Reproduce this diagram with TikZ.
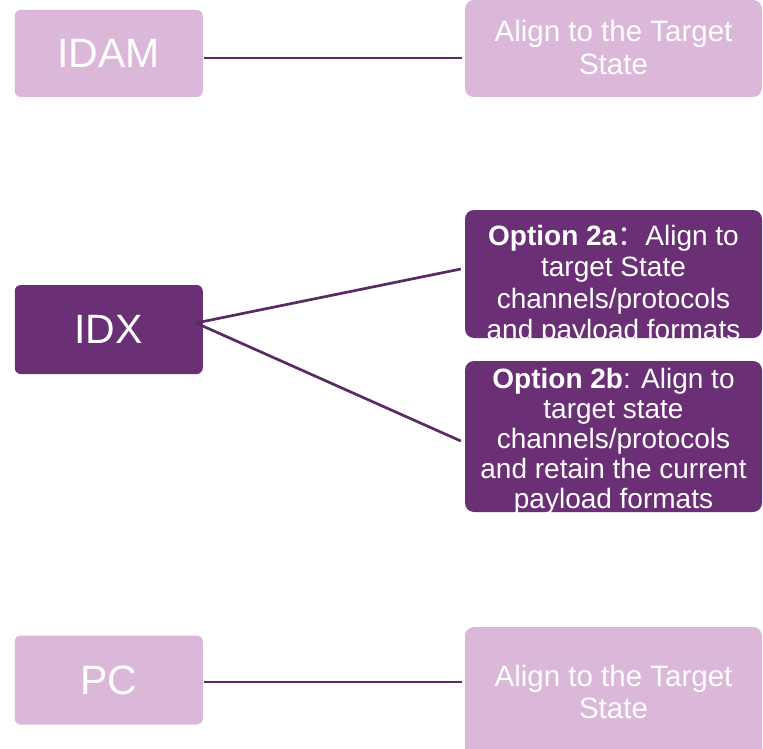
\documentclass[tikz,border=0pt]{standalone}
\usepackage{fontspec}
\setmainfont{Liberation Sans}
\newfontfamily\cjk{Noto Sans CJK SC}
\definecolor{pinkfill}{HTML}{DBB7D9}
\definecolor{purplefill}{HTML}{6B2F75}
\definecolor{linecol}{HTML}{5A2A63}
\begin{document}
\begin{tikzpicture}[x=1pt,y=-1pt,
  box/.style={rectangle, inner sep=0pt, draw=none},
  leftbox/.style={box, rounded corners=6pt, minimum width=188pt, text=white,
    font=\fontsize{41}{45}\selectfont},
  rightbox/.style={box, rounded corners=9pt, minimum width=297pt},
  pinkbox/.style={fill=pinkfill},
  purplebox/.style={fill=purplefill},
  righttext/.style={inner sep=0pt, text=white, align=center,
    font=\fontsize{29.5}{32.5}\selectfont},
  opttext/.style={inner sep=0pt, text=white, align=center},
  conn/.style={draw=linecol, line width=2.7pt}]
\useasboundingbox (0,0) rectangle (763,749);
\clip (0,0) rectangle (763,749);

% left boxes
\node[leftbox, pinkbox, minimum height=87pt] (idam) at (108.75,53.5) {IDAM};
\node[leftbox, purplebox, minimum height=89pt] (idx) at (108.75,329.5) {IDX};
\node[leftbox, pinkbox, minimum height=89pt] (pc) at (108.75,680) {PC};

% right boxes
\node[rightbox, pinkbox, minimum height=97pt] (tr) at (613.5,48.5) {};
\node[rightbox, purplebox, minimum height=128pt] (opt2a) at (613.5,274) {};
\node[rightbox, purplebox, minimum height=151pt] (opt2b) at (613.5,436.5) {};
\node[rightbox, pinkbox, minimum height=143pt] (br) at (613.5,698.5) {};

% texts of right boxes
\node[righttext] (trt) at (613.5,47.5) {Align to the Target\\State};
\begin{scope}
  \clip[rounded corners=9pt] (opt2a.north west) rectangle (opt2a.south east);
  \node[opttext, font=\fontsize{28}{31.5}\selectfont] (t2a) at (613.5,285.5)
    {\textbf{Option 2a}{\cjk：}Align to\\target State\\channels/protocols\\and payload formats};
\end{scope}
\begin{scope}
  \clip[rounded corners=9pt] (opt2b.north west) rectangle (opt2b.south east);
  \node[opttext, font=\fontsize{28}{30}\selectfont] (t2b) at (613.5,441.5)
    {\textbf{Option 2b}: Align to\\target state\\channels/protocols\\and retain the current\\payload formats};
\end{scope}
\node[righttext] (brt) at (613.5,692) {Align to the Target\\State};

% connectors
\coordinate (c1) at ([xshift=1.5pt,yshift=-4.5pt]idam.east);
\draw[conn, shorten >=3pt] (c1) -- (c1 -| tr.west);
\draw[conn] ([xshift=-7pt,yshift=6.5pt]idx.east) -- ([xshift=-4pt,yshift=5pt]opt2a.west);
\draw[conn] ([xshift=-7pt,yshift=6.5pt]idx.east) -- ([xshift=-4pt,yshift=-4.5pt]opt2b.west);
\coordinate (c2) at ([xshift=1.5pt,yshift=-2pt]pc.east);
\draw[conn, shorten >=3pt] (c2) -- (c2 -| br.west);
\end{tikzpicture}
\end{document}
